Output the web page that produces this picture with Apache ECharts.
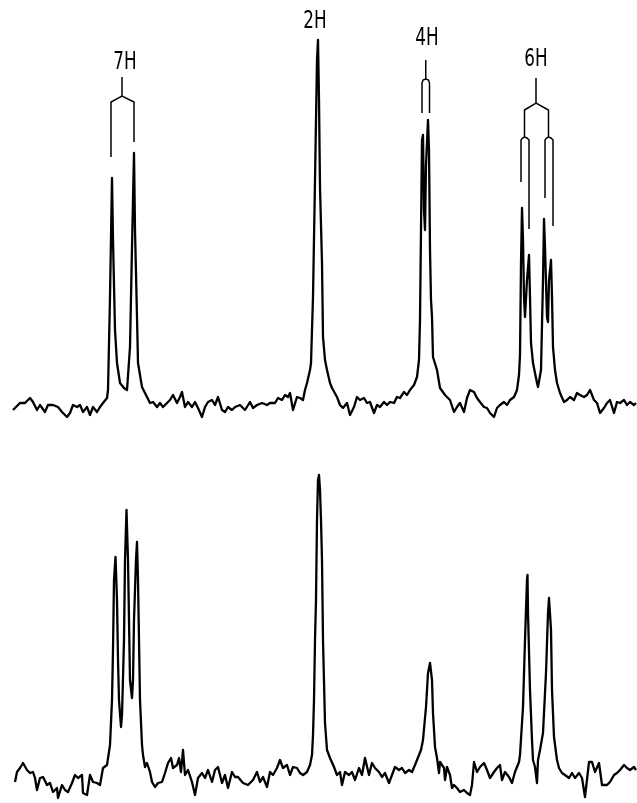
<!DOCTYPE html>
<html>
<head>
<meta charset="utf-8">
<style>
  html, body { margin: 0; padding: 0; background: #ffffff; }
  #chart { width: 637px; height: 803px; }
</style>
<script src="https://cdn.jsdelivr.net/npm/echarts@6/dist/echarts.min.js"></script>
</head>
<body>
<div id="chart"></div>
<script>
// ---- Upper spectrum (chemical-shift channel, intensity) ----
const topShift = [13,20,25,30,33,37,40,45,48,53,58,62,67,70,73,77,80,83,87,90,93,97,100,103,107,108,110,112,113,115,117,120,124,127,130,132,134,135,137,138,142,145,147,150,153,157,160,163,167,170,173,177,180,182,185,188,192,195,198,202,205,208,212,215,218,222,225,228,232,235,240,245,250,253,257,262,267,270,275,278,282,285,288,290,293,297,300,303,305,307,310,311,313,315,317,318,319,320,322,323,325,327,330,332,337,340,343,347,350,354,357,360,364,367,370,374,377,380,384,387,390,394,397,400,404,407,410,414,417,419,420,421,422,423,424,425,426,428,429,430,431,432,433,437,440,445,450,454,457,460,464,467,470,474,477,480,484,487,490,494,497,500,504,507,510,514,517,519,520,521,522,523,524,525,527,529,530,531,533,537,538,541,543,544,545,547,548,549,551,552,553,555,557,560,564,567,570,574,577,580,584,587,590,594,597,600,604,607,610,614,617,620,624,627,630,634,636];
const topIntensity = [-4,3,3,8,4,-4,1,-6,1,1,-1,-6,-11,-7,1,-1,1,-6,-1,-9,-1,-6,-1,3,8,16,109,228,166,76,43,23,18,16,59,159,253,176,89,43,19,13,13,3,4,-1,3,-1,3,6,11,3,9,14,-1,4,-1,4,-2,-11,-1,4,6,1,9,-4,-6,-1,-4,-1,1,-4,4,-2,1,3,1,3,3,8,6,11,9,13,-4,9,8,6,16,23,36,43,109,226,346,366,306,219,143,69,46,36,23,18,9,1,-2,3,-9,-1,9,6,8,3,4,-7,1,-1,4,1,4,3,9,8,14,11,16,21,29,46,86,176,266,271,196,176,241,286,256,156,106,89,49,36,18,11,6,-6,-1,3,-6,8,16,14,8,4,-1,-2,-7,-11,-2,1,4,1,6,9,16,31,51,143,198,166,109,89,126,151,109,63,43,23,19,36,126,187,159,89,84,126,146,109,59,36,23,13,4,6,9,6,13,11,9,11,16,6,3,-7,-2,3,6,-7,4,3,6,1,4,1,3];

// ---- Lower spectrum ----
const bottomShift = [15,17,20,23,27,30,33,35,37,40,43,47,50,53,57,58,62,65,68,72,75,78,82,83,87,90,93,97,100,103,107,110,112,113,114,115.5,117,118,119,121,122,124,125,126.5,128,129,130,132,133,134,136,137,138,139,140,142,143,145,147,150,152,155,158,162,165,168,171,173,177,179,181,183,185,188,192,195,198,202,205,208,212,215,218,222,225,228,232,235,238,243,248,253,257,260,263,267,270,273,277,280,283,287,290,293,297,300,303,307,310,312,313,314,315,316,317,318,319,320,321,322,323,325,327,330,334,337,340,342,345,349,352,355,359,362,365,369,372,375,379,382,385,389,392,395,399,402,405,409,412,415,419,421,423,426,428,430,432,433,435,437,439,440,444,445,447,450,452,454,457,460,464,467,470,472,474,477,480,484,487,490,494,497,500,502,505,509,512,515,519,520,523,525,527,527.5,528,530,532,533,535,537,538,540,543,546,548,549,551,552,554,557,559,562,565,569,572,575,579,582,585,589,592,595,599,602,607,610,614,617,620,624,627,630,634,636];
const bottomIntensity = [-10,0,4,9,2,-1,0,-6,-18,-6,-5,-13,-11,-20,-16,-26,-13,-18,-20,-11,-3,-6,-3,-21,-23,-3,-10,-11,-13,4,7,27,72,122,192,215,172,112,72,45,57,132,212,262,212,152,92,74,92,152,212,230,192,132,72,27,17,5,9,0,-10,-15,-11,-10,-1,9,14,4,7,14,0,22,-3,2,-10,-23,-6,-1,-6,2,-10,2,5,-11,-3,-16,0,-5,-5,-11,-13,-8,0,-10,-5,-15,0,-3,4,12,4,7,-3,5,4,-1,-3,0,7,17,37,72,132,172,252,292,297,282,252,212,132,49,22,14,5,-3,0,-13,0,-3,0,-8,4,-3,14,-3,9,4,0,-5,-1,-11,-3,5,2,4,-1,2,0,7,17,22,32,65,99,109,92,59,25,14,-1,10,4,-8,5,-3,-16,-13,-16,-20,-18,-21,-23,-13,10,0,5,9,2,-6,0,4,7,-8,0,-5,-11,0,10,17,65,132,192,197,159,82,32,12,5,-11,12,22,39,99,159,174,142,82,35,12,4,-1,-3,-6,-1,-6,-1,-6,-25,10,10,0,9,-13,-13,-10,-3,-1,2,7,4,2,5,2];

// ---- Assignment labels ----
const labelNames = ['7H', '2H', '4H', '6H'];
const labelShift = [125, 315, 427, 536];
const labelHeight = [343, 384, 367, 346];

// ---- Multiplet brackets (upper spectrum) ----
const brackets = [
  [[111,249],[111,304],[122,310],[134,304],[134,264]],
  [[122,310],[122,329]],
  [[422,293],[422,323],[423,326],[425.75,327],[428.5,326],[429.5,323],[429.5,293]],
  [[425.75,327],[425.75,346]],
  [[536,303],[536,328]],
  [[524.5,269],[524.5,296],[536,303],[548.5,296],[548.5,269]],
  [[521,224],[521,266],[522.5,268],[524.5,269],[527,268],[529,266],[529,177]],
  [[545,208],[545,266],[546.5,268],[548.5,269],[551,268],[553,266],[553,180]]
];

const zip = (xs, ys) => xs.map((x, i) => [x, ys[i]]);

const chart = echarts.init(document.getElementById('chart'), null, { renderer: 'canvas' });
const hiddenAxis = { show: false };
const option = {
  animation: false,
  backgroundColor: '#ffffff',
  grid: [
    { left: 0, right: 0, top: 6, height: 430 },
    { left: 0, right: 0, top: 340, height: 460 }
  ],
  xAxis: [
    Object.assign({ type: 'value', min: 0, max: 637, gridIndex: 0 }, hiddenAxis),
    Object.assign({ type: 'value', min: 0, max: 637, gridIndex: 1 }, hiddenAxis)
  ],
  yAxis: [
    Object.assign({ type: 'value', min: -30, max: 400, gridIndex: 0 }, hiddenAxis),
    Object.assign({ type: 'value', min: -28, max: 432, gridIndex: 1 }, hiddenAxis)
  ],
  series: [
    {
      type: 'line', xAxisIndex: 0, yAxisIndex: 0,
      data: zip(topShift, topIntensity),
      showSymbol: false, symbol: 'none', clip: false,
      lineStyle: { color: '#000000', width: 2.3, join: 'round' }
    },
    {
      type: 'line', xAxisIndex: 1, yAxisIndex: 1,
      data: zip(bottomShift, bottomIntensity),
      showSymbol: false, symbol: 'none', clip: false,
      lineStyle: { color: '#000000', width: 2.3, join: 'round' }
    },
    {
      type: 'lines', coordinateSystem: 'cartesian2d', xAxisIndex: 0, yAxisIndex: 0,
      polyline: true, silent: true,
      lineStyle: { color: '#000000', width: 1.5, opacity: 1 },
      data: brackets.map(c => ({ coords: c }))
    }
  ]
};
chart.setOption(option);

// Labels: positioned through the chart's own coordinate conversion, narrowed horizontally
const labelGraphics = labelNames.map((name, i) => {
  const p = chart.convertToPixel({ gridIndex: 0 }, [labelShift[i], labelHeight[i]]);
  return {
    type: 'text',
    x: p[0], y: p[1],
    scaleX: 0.7, scaleY: 1,
    silent: true,
    style: {
      text: name,
      font: 'normal 24px "DejaVu Sans", sans-serif',
      fill: '#000000',
      align: 'center', verticalAlign: 'middle',
      textAlign: 'center', textVerticalAlign: 'middle'
    }
  };
});
chart.setOption({ graphic: labelGraphics });
</script>
</body>
</html>
